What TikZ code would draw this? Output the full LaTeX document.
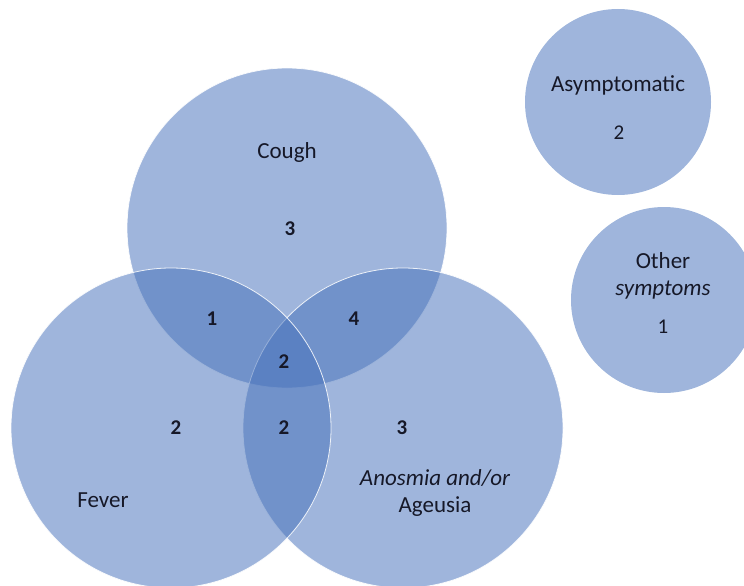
\documentclass[tikz,border=0pt]{standalone}
\usepackage{fontspec}
\setmainfont{Carlito}
\definecolor{vennblue}{RGB}{71,114,187}
\definecolor{txt}{RGB}{22,24,40}
\begin{document}
\begin{tikzpicture}[x=1pt,y=-1pt,
  set/.style={circle, inner sep=0pt, minimum size=320pt, fill=vennblue, fill opacity=0.52, draw=white, draw opacity=0.85, line width=0.8pt},
  small/.style={circle, inner sep=0pt, minimum size=186pt, fill=vennblue, fill opacity=0.52, draw=none},
  lab/.style={text=txt, font=\fontsize{23}{27}\selectfont, inner sep=0pt},
  num/.style={text=txt, font=\fontsize{21}{24}\selectfont\bfseries, inner sep=0pt},
  snum/.style={text=txt, font=\fontsize{21}{24}\selectfont, inner sep=0pt}]
\useasboundingbox (0,0) rectangle (744,586);
% sets
\node[set] (cough) at (287,228) {};
\node[set] (anosmia) at (403,428) {};
\node[set] (fever) at (171,428) {};
\node[small] (asym) at (618,102) {};
\node[small] (other) at (664,300) {};
% labels
\node[lab] (tcough) at (287,152) {Cough};
\node[lab] (tfever) at (103,500) {Fever};
\node[lab, align=center] (tanos) at (435,493) {\itshape Anosmia and/or\\Ageusia};
\node[lab] (tasym) at (618,85) {Asymptomatic};
\node[lab, align=center] (tother) at (663,276) {Other\\\itshape symptoms};
% numbers
\node[num] (n1) at (290,229) {3};
\node[num] (n2) at (212,319) {1};
\node[num] (n3) at (354,319) {4};
\node[num] (n4) at (284,362) {2};
\node[num] (n5) at (284,428) {2};
\node[num] (n6) at (176,428) {2};
\node[num] (n7) at (402,428) {3};
\node[snum] (n8) at (619,133) {2};
\node[snum] (n9) at (663,327) {1};
\end{tikzpicture}
\end{document}
